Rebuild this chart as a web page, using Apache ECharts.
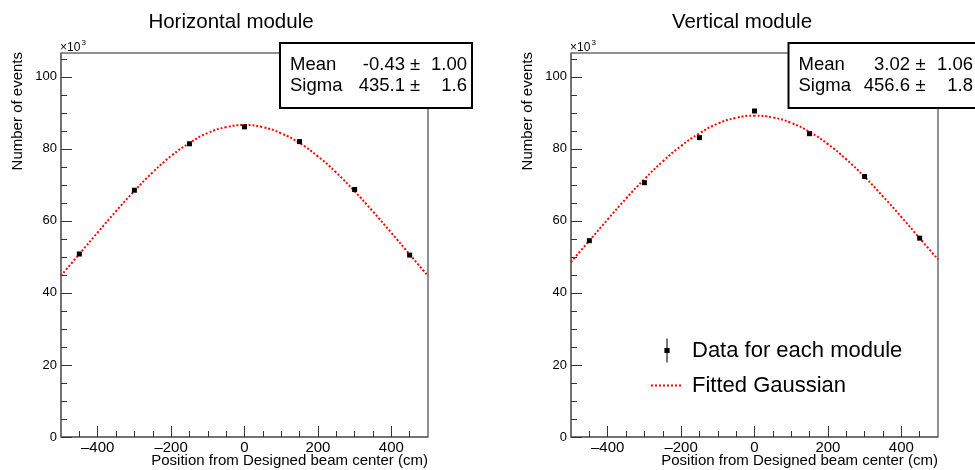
<!DOCTYPE html>
<html>
<head>
<meta charset="utf-8">
<script src="https://cdn.jsdelivr.net/npm/echarts@6/dist/echarts.min.js"></script>
<style>
html,body{margin:0;padding:0;background:#fff;}
#chart{width:975px;height:470px;}
</style>
</head>
<body>
<div id="chart"></div>
<script>
// ---- data (values in units of 10^3 events) ----
const panelTitles = ['Horizontal module', 'Vertical module'];
const xPositions = [-450, -300, -150, 0, 150, 300, 450];
const horizontalCounts = [50.8, 68.5, 81.4, 86.1, 82.0, 68.7, 50.5];
const verticalCounts = [54.5, 70.6, 83.1, 90.5, 84.2, 72.3, 55.2];
const fitX = [-500, -450, -400, -350, -300, -250, -200, -150, -100, -50, 0, 50, 100, 150, 200, 250, 300, 350, 400, 450, 500];
const horizontalFit = [44.8, 50.8, 56.8, 62.7, 68.3, 73.5, 78.0, 81.6, 84.4, 86.0, 86.6, 86.0, 84.3, 81.6, 77.9, 73.4, 68.2, 62.6, 56.7, 50.7, 44.7];
const verticalFit = [48.6, 54.5, 60.4, 66.2, 71.6, 76.5, 80.8, 84.3, 87.0, 88.6, 89.2, 88.7, 87.2, 84.7, 81.3, 77.1, 72.2, 66.8, 61.1, 55.2, 49.3];
const statsHorizontal = {mean: ['-0.43', '1.00'], sigma: ['435.1', '1.6']};
const statsVertical = {mean: ['3.02', '1.06'], sigma: ['456.6', '1.8']};
const xMajorTicks = [-400, -200, 0, 200, 400];
const xMinorTicks = [-450, -350, -300, -250, -150, -100, -50, 50, 100, 150, 250, 300, 350, 450];
const yMajorTicks = [0, 20, 40, 60, 80, 100];
const yMinorTicks = [5, 10, 15, 25, 30, 35, 45, 50, 55, 65, 70, 75, 85, 90, 95, 105];
const xRange = [-500, 500];
const yRange = [0, 106.6];
const dataName = 'Data for each module';
const fitName = 'Fitted Gaussian';
const xTitle = 'Position from Designed beam center (cm)';
const yTitle = 'Number of events';

// ---- layout ----
const FONT = 'Liberation Sans';
const grids = [
  {left: 61, top: 53, width: 367, height: 384},
  {left: 571, top: 53, width: 367, height: 384}
];
const axisColor = '#6a6a6a';

function fmtX(v) { return v < 0 ? '\u2013' + Math.abs(v) : String(v); }

const xAxes = [], yAxes = [];
grids.forEach((g, i) => {
  xAxes.push({
    type: 'value', gridIndex: i, min: xRange[0], max: xRange[1], position: 'bottom',
    splitLine: {show: false},
    axisLine: {show: true, onZero: false, lineStyle: {color: axisColor, width: 1.5}},
    axisTick: {show: true, inside: true, length: 11, customValues: xMajorTicks, lineStyle: {color: '#333', width: 1}},
    axisLabel: {show: true, customValues: xMajorTicks, formatter: fmtX, margin: 3, color: '#000', fontSize: 15, fontFamily: FONT}
  });
  xAxes.push({
    type: 'value', gridIndex: i, min: xRange[0], max: xRange[1], position: 'bottom',
    splitLine: {show: false},
    axisLine: {show: false, onZero: false},
    axisTick: {show: true, inside: true, length: 6, customValues: xMinorTicks, lineStyle: {color: '#333', width: 1}},
    axisLabel: {show: false}
  });
  yAxes.push({
    type: 'value', gridIndex: i, min: yRange[0], max: yRange[1], position: 'left',
    splitLine: {show: false},
    axisLine: {show: true, onZero: false, lineStyle: {color: axisColor, width: 1.5}},
    axisTick: {show: true, inside: true, length: 11, customValues: yMajorTicks, lineStyle: {color: '#333', width: 1}},
    axisLabel: {show: true, customValues: yMajorTicks, margin: 4, color: '#000', fontSize: 13, fontFamily: FONT}
  });
  yAxes.push({
    type: 'value', gridIndex: i, min: yRange[0], max: yRange[1], position: 'left',
    splitLine: {show: false},
    axisLine: {show: false, onZero: false},
    axisTick: {show: true, inside: true, length: 6, customValues: yMinorTicks, lineStyle: {color: '#333', width: 1}},
    axisLabel: {show: false}
  });
});

function pairs(xs, ys) { return xs.map((x, k) => [x, ys[k]]); }

const fitLine = (data, i) => ({
  name: fitName, type: 'line', xAxisIndex: 2 * i, yAxisIndex: 2 * i,
  data: pairs(fitX, data), smooth: true, symbol: 'none', showSymbol: false,
  lineStyle: {color: '#ff0000', width: 2, type: [2, 2]}, itemStyle: {color: '#ff0000'},
  z: 3, silent: true
});
const dataPts = (data, i) => ({
  name: dataName, type: 'scatter', xAxisIndex: 2 * i, yAxisIndex: 2 * i,
  data: pairs(xPositions, data), symbol: 'rect', symbolSize: 5,
  itemStyle: {color: '#000', opacity: 1}, z: 4, silent: true
});

function statsBox(x0, w, labelX, valRight, pmX, errRight, st) {
  const t = (text, x, y, align) => ({
    type: 'text', x: x, y: y, z: 101,
    style: {text: text, fontSize: 18.5, fontFamily: FONT, fill: '#000', align: align, verticalAlign: 'middle'}
  });
  return [
    {type: 'rect', z: 100, shape: {x: x0, y: 43, width: w, height: 65}, style: {fill: '#fff', stroke: '#000', lineWidth: 2}},
    t('Mean', labelX, 64.5, 'left'),
    t(st.mean[0], valRight, 64.5, 'right'),
    t('\u00b1', pmX, 64.5, 'center'),
    t(st.mean[1], errRight, 64.5, 'right'),
    t('Sigma', labelX, 85.5, 'left'),
    t(st.sigma[0], valRight, 85.5, 'right'),
    t('\u00b1', pmX, 85.5, 'center'),
    t(st.sigma[1], errRight, 85.5, 'right')
  ];
}

function axisTitles(g, yx) {
  return [
    {type: 'text', x: g.left + g.width, y: 461, z: 50,
      style: {text: xTitle, fontSize: 15, fontFamily: FONT, fill: '#000', align: 'right', verticalAlign: 'middle'}},
    {type: 'text', x: yx, y: 52, rotation: Math.PI / 2, z: 50,
      style: {text: yTitle, fontSize: 15, fontFamily: FONT, fill: '#000', align: 'right', verticalAlign: 'middle'}},
    {type: 'text', x: g.left - 1, y: 47.5, z: 50,
      style: {text: '\u00d710', fontSize: 12, fontFamily: FONT, fill: '#000', align: 'left', verticalAlign: 'middle'}},
    {type: 'text', x: g.left + 20.5, y: 42.5, z: 50,
      style: {text: '3', fontSize: 8, fontFamily: FONT, fill: '#000', align: 'left', verticalAlign: 'middle'}}
  ];
}

const option = {
  animation: false,
  backgroundColor: '#fff',
  textStyle: {fontFamily: FONT},
  title: [
    {text: panelTitles[0], left: 231, top: 12, textAlign: 'center', padding: 0,
      textStyle: {fontSize: 20.5, fontWeight: 'normal', color: '#000', fontFamily: FONT}},
    {text: panelTitles[1], left: 742, top: 12, textAlign: 'center', padding: 0,
      textStyle: {fontSize: 20.5, fontWeight: 'normal', color: '#000', fontFamily: FONT}}
  ],
  grid: grids.map(g => Object.assign({show: true, borderColor: '#222', borderWidth: 1, backgroundColor: 'transparent', containLabel: false}, g)),
  xAxis: xAxes,
  yAxis: yAxes,
  legend: {
    orient: 'vertical', left: 650, top: 338.5, padding: 0, itemWidth: 32, itemHeight: 24, itemGap: 12,
    selectedMode: false,
    textStyle: {fontSize: 22, fontFamily: FONT, color: '#000', padding: [0, 0, 0, 4]},
    data: [
      {name: dataName, icon: 'path://M2,0H3V9H5V14H3V23H2V14H0V9H2Z', itemStyle: {color: '#000', opacity: 1}},
      {name: fitName, itemStyle: {opacity: 0}, lineStyle: {color: '#ff0000', width: 2, type: [2, 2]}}
    ]
  },
  series: [
    fitLine(horizontalFit, 0), dataPts(horizontalCounts, 0),
    fitLine(verticalFit, 1), dataPts(verticalCounts, 1)
  ],
  graphic: [].concat(
    statsBox(280, 192, 290, 405, 415, 467, statsHorizontal),
    statsBox(788.5, 200, 798.5, 910, 920.7, 973, statsVertical),
    axisTitles(grids[0], 18),
    axisTitles(grids[1], 528)
  )
};

const chart = echarts.init(document.getElementById('chart'), null, {renderer: 'canvas'});
chart.setOption(option);
</script>
</body>
</html>
